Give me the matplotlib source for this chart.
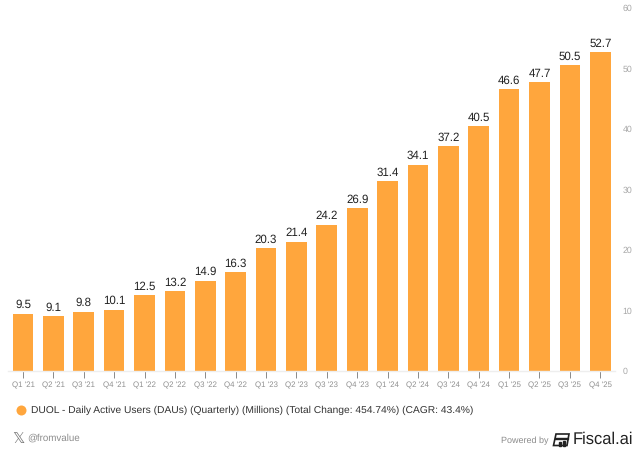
#!/usr/bin/env python3
import matplotlib
matplotlib.use("Agg")
import matplotlib.pyplot as plt
from matplotlib.patches import Polygon, Rectangle

quarters = ["Q1 '21", "Q2 '21", "Q3 '21", "Q4 '21",
            "Q1 '22", "Q2 '22", "Q3 '22", "Q4 '22",
            "Q1 '23", "Q2 '23", "Q3 '23", "Q4 '23",
            "Q1 '24", "Q2 '24", "Q3 '24", "Q4 '24",
            "Q1 '25", "Q2 '25", "Q3 '25", "Q4 '25"]
dau = [9.5, 9.1, 9.8, 10.1, 12.5, 13.2, 14.9, 16.3, 20.3, 21.4,
       24.2, 26.9, 31.4, 34.1, 37.2, 40.5, 46.6, 47.7, 50.5, 52.7]
y_ticks = [0, 10, 20, 30, 40, 50, 60]
legend_text = "DUOL - Daily Active Users (DAUs) (Quarterly) (Millions) (Total Change: 454.74%) (CAGR: 43.4%)"

W, H = 640, 454
ORANGE = "#FFA63D"

plt.rcParams["font.family"] = ["Liberation Sans", "DejaVu Sans"]
plt.rcParams["text.hinting"] = "none"

fig = plt.figure(figsize=(W / 100, H / 100), dpi=100)
# axes placed in pixels: baseline at y=371, 60 at y=8, plot runs x=8..615
ax = fig.add_axes([8 / W, 1 - 371 / H, 607 / W, 363 / H])
step = 30.38
ax.set_xlim((8 - 23) / step, (615 - 23) / step)
ax.set_ylim(0, 60)

x = list(range(len(dau)))
ax.bar(x, dau, width=0.68, color=ORANGE, linewidth=0, zorder=2)
for i, v in zip(x, dau):
    ax.annotate(f"{v:.1f}", (i, v), xytext=(0, 2.2), textcoords="offset points",
                ha="center", va="bottom", fontsize=8.3, color="#222222")

for s in ["top", "left", "right"]:
    ax.spines[s].set_visible(False)
ax.spines["bottom"].set_color("#eeeeee")
ax.spines["bottom"].set_linewidth(1)

ax.set_xticks(x, quarters)
ax.tick_params(axis="x", length=5, width=0.6, color="#777777", pad=2.5,
               labelsize=5.7, labelcolor="#909090")
ax.yaxis.tick_right()
ax.set_yticks(y_ticks)
ax.tick_params(axis="y", length=0, pad=5.5, labelsize=6.3, labelcolor="#a8a8a8")

# legend row
fig.add_artist(plt.Line2D([20.5 / W], [1 - 410 / H], marker="o", markersize=7.2,
                          markeredgewidth=0, color=ORANGE, linestyle="none"))
fig.text(31 / W, 1 - 410 / H, legend_text, fontsize=7.4, color="#333333",
         ha="left", va="center")

# footer
fig.text(12.5 / W, 1 - 438.5 / H, "𝕏", fontsize=11, color="#777777", ha="left", va="center",
         family=["DejaVu Sans"])
fig.text(27 / W, 1 - 438 / H, "@fromvalue", fontsize=7.05, color="#8c8c8c",
         ha="left", va="center")
fig.text(548.5 / W, 1 - 441 / H, "Powered by", fontsize=6.5, color="#8c8c8c",
         ha="right", va="center")

# Fiscal.ai logo, drawn in pixel coordinates
def px(pts):
    return [(a / W, 1 - b / H) for a, b in pts]

fig.add_artist(Polygon(px([(556, 434), (569, 434), (567, 445.5), (553.5, 445.5)]),
                       closed=True, fill=False, edgecolor="#222222", linewidth=1.2,
                       transform=fig.transFigure))
fig.add_artist(Rectangle((555 / W, 1 - 438.5 / H), 13 / W, 1 / H, color="#222222",
                         transform=fig.transFigure))
fig.add_artist(Rectangle((558.5 / W, 1 - 445.5 / H), 2 / W, 4 / H, color="#222222",
                         transform=fig.transFigure))
fig.add_artist(Rectangle((562.5 / W, 1 - 445.5 / H), 2 / W, 5 / H, color="#222222",
                         transform=fig.transFigure))
fig.text(573 / W, 1 - 439.5 / H, "Fiscal.ai", fontsize=11.9, color="#222222",
         ha="left", va="center")

fig.savefig("out.png", dpi=100)
